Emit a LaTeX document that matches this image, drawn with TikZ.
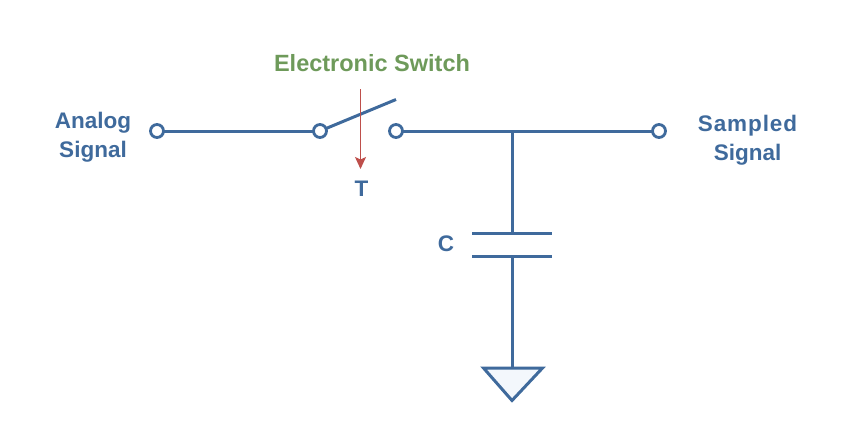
\documentclass[tikz,border=0pt]{standalone}
\usepackage{fontspec}
\setmainfont{Liberation Sans}
\usetikzlibrary{arrows.meta}
\definecolor{wireblue}{HTML}{3F6A9C}
\definecolor{switchgreen}{HTML}{6E9A5A}
\definecolor{trigred}{HTML}{BE4F4B}
\definecolor{gndfill}{HTML}{F3F7FC}
\tikzset{
  wire/.style={draw=wireblue,line width=3pt},
  termin/.style={circle,draw=wireblue,fill=white,line width=2.8pt,minimum size=13pt,inner sep=0pt,outer sep=0pt},
  bluelabel/.style={text=wireblue,font=\fontsize{22.5}{29}\selectfont\bfseries,align=center,inner sep=0pt},
  greenlabel/.style={text=switchgreen,font=\fontsize{23.5}{28}\selectfont\bfseries,inner sep=0pt},
  trigger/.style={draw=trigred,line width=1.5pt,-{Stealth[length=12pt,width=11pt,inset=2.5pt]}}
}
\begin{document}
\begin{tikzpicture}[x=1pt,y=-1pt]
\useasboundingbox (0,0) rectangle (850,442);
\coordinate (j) at (512,130.5);
\coordinate (armend) at (396,99.5);
\coordinate (p1l) at (472,233);
\coordinate (p1r) at (552,233);
\coordinate (p1c) at (512,233);
\coordinate (p2l) at (472,256);
\coordinate (p2r) at (552,256);
\coordinate (p2c) at (512,256);
\coordinate (g) at (512,368);
\coordinate (gl) at (483.5,368);
\coordinate (gr) at (542.5,368);
\coordinate (gb) at (512,400.5);
\coordinate (rt) at (360.5,89);
\coordinate (rb) at (360.5,169);
\node[termin] (a) at (157,131) {};
\node[termin] (b) at (320,131) {};
\node[termin] (c) at (396,131) {};
\node[termin] (d) at (659,131) {};
\draw[wire] (a) -- (b);
\draw[wire] (b) -- (armend);
\draw[wire] (c) -- (d);
\draw[wire] (j) -- (p1c);
\draw[wire] (p1l) -- (p1r);
\draw[wire] (p2l) -- (p2r);
\draw[wire] (p2c) -- (g);
\draw[wire,fill=gndfill,line join=miter] (gl) -- (gr) -- (gb) -- cycle;
\draw[trigger] (rt) -- (rb);
\node[greenlabel] (sw) at (372,63) {Electronic Switch};
\node[bluelabel] (an) at (93,137) {Analog\\Signal};
\node[bluelabel] (sa) at (747.5,140) {\addfontfeature{LetterSpace=4}Sampled\\Signal};
\node[bluelabel] (t) at (361.5,189) {T};
\node[bluelabel] (cc) at (446,244) {C};
\end{tikzpicture}
\end{document}
